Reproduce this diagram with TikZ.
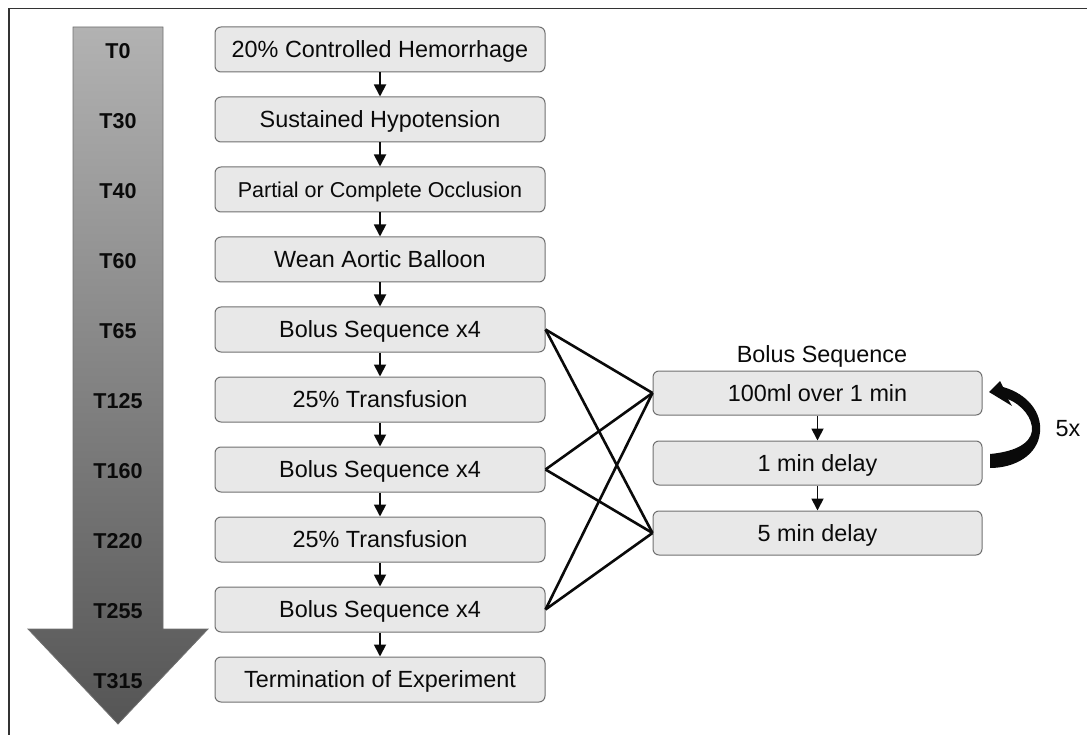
\documentclass[tikz,border=0pt]{standalone}
\usepackage{fontspec}
\setmainfont{Liberation Sans}
\usetikzlibrary{arrows.meta}
\definecolor{boxfill}{HTML}{E8E8E8}
\definecolor{boxline}{HTML}{707070}
\definecolor{arrtop}{HTML}{B2B2B2}
\definecolor{arrbot}{HTML}{555555}
\definecolor{frameline}{HTML}{333333}
\definecolor{ink}{HTML}{0A0A0A}
\begin{document}
\begin{tikzpicture}[x=1pt,y=-1pt,
  stepbox/.style={draw=boxline, fill=boxfill, rounded corners=6pt, line width=1pt,
    minimum width=330pt, minimum height=45pt, inner sep=0pt, text=ink,
    text height=16.8pt, text depth=0pt,
    font=\fontsize{23.4}{28}\selectfont},
  seqbox/.style={stepbox, minimum width=329pt, minimum height=44pt},
  tlabel/.style={text=ink, inner sep=0pt, text height=15.5pt, text depth=0pt,
    font=\fontsize{21.5}{26}\selectfont\bfseries},
  plain/.style={text=ink, inner sep=0pt, text height=16.8pt, text depth=0pt,
    font=\fontsize{23.4}{28}\selectfont},
  flow/.style={line width=1.8pt, draw=ink, -{Triangle[length=12pt,width=12pt]}},
  link/.style={line width=2.6pt, draw=ink},
]
\useasboundingbox (0,0) rectangle (1087,735);
% frame (top and left edges)
\draw[line width=1.5pt, frameline] (1087,8.5) -- (9,8.5) -- (9,735);
% big time arrow
\path[top color=arrtop, bottom color=arrbot, draw=boxline, line width=0.8pt]
  (73,27) -- (163,27) -- (163,629) -- (208,629) -- (118,724) -- (28,629) -- (73,629) -- cycle;
% time labels
\foreach \i/\t in {0/T0,1/T30,2/T40,3/T60,4/T65,5/T125,6/T160,7/T220,8/T255,9/T315}{
  \node[tlabel] (t\i) at (118,{50.5+70*\i}) {\t};
}
% main step boxes
\node[stepbox] (b0) at (380,49.5) {20\% Controlled Hemorrhage};
\node[stepbox] (b1) at (380,119.5) {Sustained Hypotension};
\node[stepbox, font=\fontsize{21.5}{26}\selectfont, text height=15.4pt] (b2) at (380,189.5) {Partial or Complete Occlusion};
\node[stepbox] (b3) at (380,259.5) {Wean Aortic Balloon};
\node[stepbox] (b4) at (380,329.5) {Bolus Sequence x4};
\node[stepbox] (b5) at (380,399.5) {25\% Transfusion};
\node[stepbox] (b6) at (380,469.5) {Bolus Sequence x4};
\node[stepbox] (b7) at (380,539.5) {25\% Transfusion};
\node[stepbox] (b8) at (380,609.5) {Bolus Sequence x4};
\node[stepbox] (b9) at (380,679.5) {Termination of Experiment};
\foreach \a/\b in {0/1,1/2,2/3,3/4,4/5,5/6,6/7,7/8,8/9}{
  \draw[flow] (b\a.south) -- (b\b.north);
}
% bolus sequence detail
\node[seqbox] (r0) at (817.5,393) {100ml over 1 min};
\node[seqbox] (r1) at (817.5,463) {1 min delay};
\node[seqbox] (r2) at (817.5,533) {5 min delay};
\node[plain, anchor=base] (seqlabel) at (822,362) {Bolus Sequence};
\draw[flow] (r0.south) -- (r1.north);
\draw[flow] (r1.south) -- (r2.north);
% links from bolus steps to detail
\foreach \b in {4,6,8}{
  \draw[link] (b\b.east) -- (r0.west);
  \draw[link] (b\b.east) -- (r2.west);
}
% curved repeat arrow
\fill[ink] (1003,387)
  .. controls (1028,394) and (1042,413) .. (1040,432)
  .. controls (1038,455) and (1015,468) .. (990,468)
  -- (990,454)
  .. controls (1012,452) and (1030,445) .. (1032,431)
  .. controls (1033,418) and (1022,405) .. (1008,399)
  -- (1012,406) -- (989,392) -- (1000,381) -- cycle;
\node[plain] (fivex) at (1068,428) {5x};
\end{tikzpicture}
\end{document}
